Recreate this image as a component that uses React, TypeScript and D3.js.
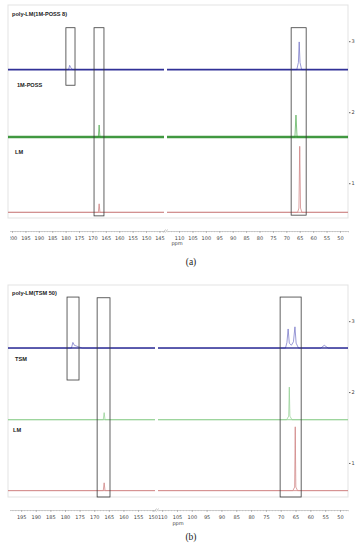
import React, { useEffect, useRef } from 'react'
import * as d3 from 'd3'

type Pt = [number, number]

// ---- panel (a): poly-LM(1M-POSS 8) ----
const titleA = 'poly-LM(1M-POSS 8)'
const namesA = ['1M-POSS', 'LM']
const offsetsA = [2.6, 1.65, 0.59]
const blueA: Pt[] = [[201.5,0],[178.9,0],[178.5,0.06],[178.1,0.03],[177.4,0],[143.3,0],[114.5,0],[66.1,0],[65.5,0.1],[65.2,0.39],[64.9,0.1],[64.3,0],[47,0]]
const greenA: Pt[] = [[201.5,0],[167.8,0],[167.5,0.17],[167.2,0],[143.3,0],[114.5,0],[66.8,0],[66.4,0.31],[66.0,0],[47,0]]
const redA: Pt[] = [[201.5,0],[167.8,0],[167.5,0.12],[167.2,0],[143.3,0],[114.5,0],[65.8,0],[65.3,0.06],[65.0,0.93],[64.7,0.06],[64.2,0],[47,0]]
const boxesA: number[][] = [[179.9,176.5,3.19,2.38],[169.4,165.7,3.19,0.54],[68.2,62.6,3.19,0.55]]
const ticksA_left = [200,195,190,185,180,175,170,165,160,155,150,145]
const ticksA_right = [110,105,100,95,90,85,80,75,70,65,60,55,50]

// ---- panel (b): poly-LM(TSM 50) ----
const titleB = 'poly-LM(TSM 50)'
const namesB = ['TSM', 'LM']
const offsetsB = [2.62, 1.61, 0.61]
const blueB: Pt[] = [[199.5,0],[177.8,0],[177.3,0.08],[176.8,0.04],[175.5,0.02],[174,0],[149.2,0],[111.4,0],[68.4,0],[67.9,0.08],[67.5,0.27],[67.1,0.07],[66.4,0.04],[65.7,0.09],[65.2,0.3],[64.8,0.07],[64.0,0],[56.5,0],[55.3,0.04],[54,0],[47.3,0]]
const greenB: Pt[] = [[199.5,0],[166.9,0],[166.6,0.1],[166.3,0],[149.2,0],[111.4,0],[68,0],[67.3,0.05],[67.1,0.46],[66.9,0.05],[66.2,0],[47.3,0]]
const redB: Pt[] = [[199.5,0],[166.9,0],[166.6,0.11],[166.3,0],[149.2,0],[111.4,0],[65.9,0],[65.3,0.05],[65.1,0.9],[64.9,0.05],[64.3,0],[47.3,0]]
const boxesB: number[][] = [[179.3,175.2,3.34,2.17],[169.0,164.6,3.33,0.52],[70.2,63.1,3.34,0.52]]
const ticksB_left = [195,190,185,180,175,170,165,160,155,150]
const ticksB_right = [110,105,100,95,90,85,80,75,70,65,60,55,50]

const rightTicks = [1, 2, 3]

const panels = [
  {
    title: titleA, names: namesA, offsets: offsetsA, series: [blueA, greenA, redA],
    colors: ['#1d1d8c', '#2b8c2b', '#cc8484'], peakColors: ['#6f6fc4', '#4aa84a', '#cc7a7a'], noise: [1.7, 2.6, 0],
    boxes: boxesA, ticksL: ticksA_left, ticksR: ticksA_right, caption: '(a)',
    top: 5, bottom: 218, yDom: [0.51, 3.51], xl: [201.5, 143.3], xlR: [8, 164], xr: [114.5, 47], xrR: [167, 348],
    axisY: 231, titleY: 16, nameY: [87, 154], nameX: [17, 15], ppmX: 177, ppmY: 245, capY: 265,
  },
  {
    title: titleB, names: namesB, offsets: offsetsB, series: [blueB, greenB, redB],
    colors: ['#1d1d8c', '#8fcf8f', '#d38c8c'], peakColors: ['#6f6fc4', '#8fcf8f', '#cc7a7a'], noise: [1.5, 0, 0],
    boxes: boxesB, ticksL: ticksB_left, ticksR: ticksB_right, caption: '(b)',
    top: 285, bottom: 497, yDom: [0.52, 3.51], xl: [199.5, 149.2], xlR: [8, 155], xr: [111.4, 47.3], xrR: [158, 348],
    axisY: 510, titleY: 295, nameY: [361, 432], nameX: [15, 13], ppmX: 178, ppmY: 525, capY: 540,
  },
]

export default function App() {
  const ref = useRef<SVGSVGElement>(null)

  useEffect(() => {
    const svg = d3.select(ref.current)
    svg.selectAll('*').remove()
    const defs = svg.append('defs')

    panels.forEach((p, pi) => {
      const g = svg.append('g')
      const y = d3.scaleLinear().domain(p.yDom).range([p.bottom, p.top])
      const xL = d3.scaleLinear().domain(p.xl).range(p.xlR)
      const xR = d3.scaleLinear().domain(p.xr).range(p.xrR)
      const mid = (p.xl[1] + p.xr[0]) / 2
      const xp = (v: number) => (v >= mid ? xL(v) : xR(v))
      const left = p.xlR[0], right = p.xrR[1]

      // frame
      g.append('rect')
        .attr('x', left).attr('y', p.top)
        .attr('width', right - left).attr('height', p.bottom - p.top)
        .attr('fill', 'none').attr('stroke', '#e3e3e3').attr('stroke-width', 1)

      // spectra
      p.series.forEach((s, si) => {
        const off = p.offsets[si]
        const segs = [s.filter(d => d[0] >= mid), s.filter(d => d[0] < mid)]
        segs.forEach(seg => {
          const line = d3.line<Pt>().x(d => xp(d[0])).y(d => y(off + d[1]))
          g.append('path')
            .attr('d', line(seg))
            .attr('fill', 'none').attr('stroke', p.peakColors[si])
            .attr('stroke-width', 0.7)
          if (p.noise[si] > 0) {
            g.append('line')
              .attr('x1', xp(seg[0][0])).attr('x2', xp(seg[seg.length - 1][0]))
              .attr('y1', y(off)).attr('y2', y(off))
              .attr('stroke', p.colors[si]).attr('stroke-width', p.noise[si])
              .attr('opacity', 0.85)
          } else {
            g.append('line')
              .attr('x1', xp(seg[0][0])).attr('x2', xp(seg[seg.length - 1][0]))
              .attr('y1', y(off)).attr('y2', y(off))
              .attr('stroke', p.colors[si]).attr('stroke-width', 0.9)
          }
        })
      })

      // boxes
      p.boxes.forEach(b => {
        g.append('rect')
          .attr('x', xp(b[0])).attr('y', y(b[2]))
          .attr('width', xp(b[1]) - xp(b[0])).attr('height', y(b[3]) - y(b[2]))
          .attr('fill', 'none').attr('stroke', '#3a3a3a').attr('stroke-width', 0.8)
      })

      // titles and names
      g.append('text').attr('x', 12).attr('y', p.titleY)
        .attr('font-family', 'Liberation Sans, Arial, sans-serif').attr('font-weight', 'bold')
        .attr('font-size', 5.6).attr('fill', '#222').text(p.title)
      p.names.forEach((n, i) => {
        g.append('text').attr('x', p.nameX[i]).attr('y', p.nameY[i])
          .attr('font-family', 'Liberation Sans, Arial, sans-serif').attr('font-weight', 'bold')
          .attr('font-size', 5.6).attr('fill', '#222').text(n)
      })

      // right axis
      const ra = g.append('g').attr('transform', `translate(${right + 1},0)`)
        .call(d3.axisRight(y).tickValues(rightTicks).tickSize(1.5).tickPadding(1).tickFormat(d3.format('d')))
      ra.select('.domain').remove()
      ra.selectAll('line').attr('stroke', '#666')
      ra.selectAll('text').attr('font-size', 5).attr('fill', '#444').attr('font-family', 'DejaVu Sans, sans-serif')

      // x axis (broken)
      const clipId = `clip${pi}`
      defs.append('clipPath').attr('id', clipId).append('rect')
        .attr('x', 10).attr('y', p.axisY - 5).attr('width', 360).attr('height', 20)
      const ax = g.append('g').attr('clip-path', `url(#${clipId})`)
      ;[[xL, p.ticksL], [xR, p.ticksR]].forEach(([sc, tk]: any) => {
        const [d0, d1] = sc.domain()
        const minor = d3.range(Math.floor(d0), Math.ceil(d1) - 1, -1).filter((v: number) => v <= d0 && v >= d1)
        const mg = ax.append('g').attr('transform', `translate(0,${p.axisY})`)
          .call(d3.axisBottom(sc).tickValues(minor).tickSize(1.2).tickFormat(() => ''))
        mg.select('.domain').attr('stroke', '#b0b0b0').attr('stroke-width', 0.6)
        mg.selectAll('line').attr('stroke', '#b0b0b0').attr('stroke-width', 0.5)
        const Mg = ax.append('g').attr('transform', `translate(0,${p.axisY})`)
          .call(d3.axisBottom(sc).tickValues(tk).tickSize(2).tickPadding(3).tickFormat(d3.format('d')))
        Mg.select('.domain').remove()
        Mg.selectAll('line').attr('stroke', '#999').attr('stroke-width', 0.6)
        Mg.selectAll('text').attr('font-size', 5).attr('fill', '#444').attr('font-family', 'DejaVu Sans, sans-serif')
      })
      const bx = (p.xlR[1] + p.xrR[0]) / 2
      g.append('line').attr('x1', bx - 2).attr('x2', bx).attr('y1', p.axisY + 1.5).attr('y2', p.axisY - 1.5)
        .attr('stroke', '#888').attr('stroke-width', 0.5)
      g.append('line').attr('x1', bx).attr('x2', bx + 2).attr('y1', p.axisY + 1.5).attr('y2', p.axisY - 1.5)
        .attr('stroke', '#888').attr('stroke-width', 0.5)
      g.append('text').attr('x', p.ppmX).attr('y', p.ppmY).attr('text-anchor', 'middle')
        .attr('font-size', 5).attr('fill', '#444').attr('font-family', 'DejaVu Sans, sans-serif').text('ppm')

      // caption
      g.append('text').attr('x', 191).attr('y', p.capY).attr('text-anchor', 'middle')
        .attr('font-family', 'Liberation Serif, Times New Roman, serif').attr('font-size', 9.5)
        .attr('fill', '#222').text(p.caption)
    })
  }, [])

  return (
    <svg ref={ref} width={364} height={550}
      style={{ position: 'absolute', left: 0, top: 0, background: '#fff' }} />
  )
}
